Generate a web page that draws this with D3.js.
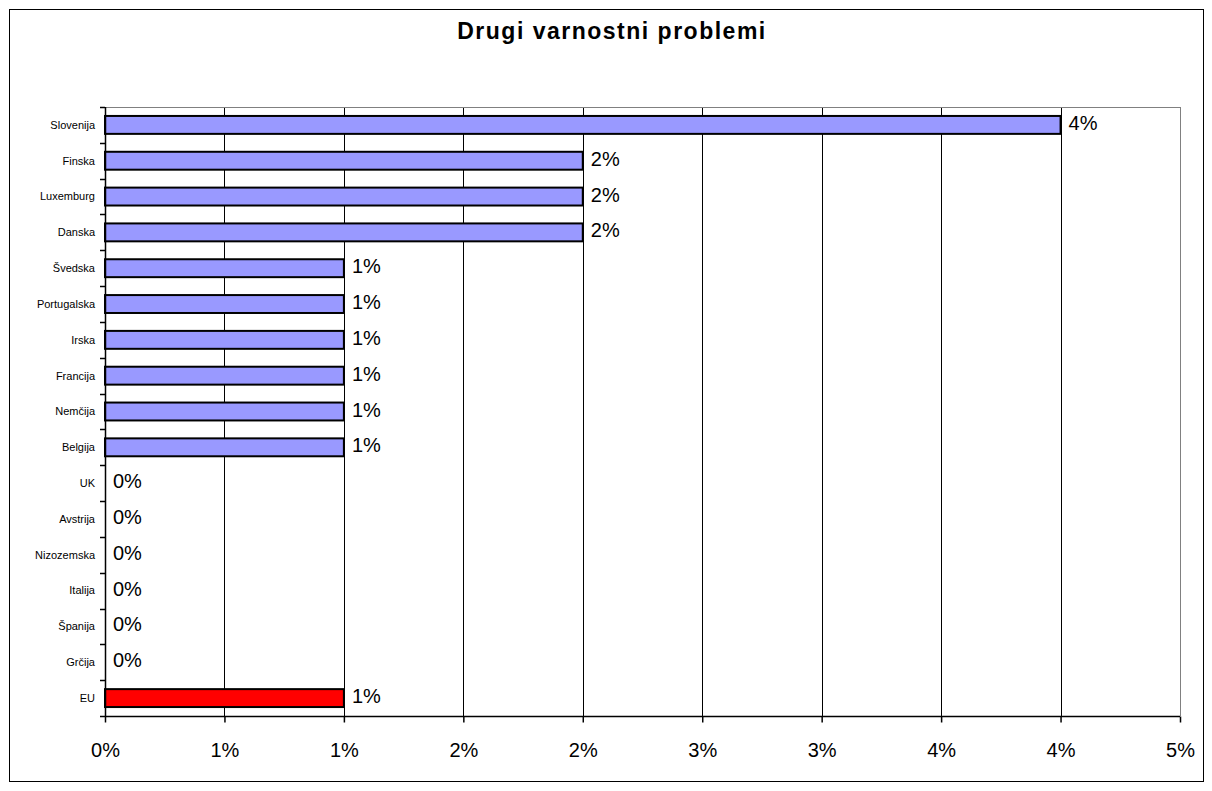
<!DOCTYPE html>
<html><head><meta charset="utf-8">
<script src="https://cdn.jsdelivr.net/npm/d3@7"></script>
<style>body{margin:0;background:#fff}svg{display:block}text{font-family:"Liberation Sans",Arial,sans-serif}</style>
</head><body>
<script>
const categories = ["Slovenija","Finska","Luxemburg","Danska","Švedska","Portugalska","Irska","Francija","Nemčija","Belgija","UK","Avstrija","Nizozemska","Italija","Španija","Grčija","EU"];
const values = [0.04,0.02,0.02,0.02,0.01,0.01,0.01,0.01,0.01,0.01,0,0,0,0,0,0,0.01];
const valueLabels = ["4%","2%","2%","2%","1%","1%","1%","1%","1%","1%","0%","0%","0%","0%","0%","0%","1%"];
const tickValues = [0,0.005,0.01,0.015,0.02,0.025,0.03,0.035,0.04,0.045];
const tickLabels = ["0%","1%","1%","2%","2%","3%","3%","4%","4%","5%"];
const title = "Drugi varnostni problemi";

const W = 1212, H = 791;
const svg = d3.select("body").append("svg").attr("width", W).attr("height", H);
svg.append("rect").attr("width", W).attr("height", H).attr("fill", "#fff");
svg.append("rect").attr("x", 9.5).attr("y", 9.5).attr("width", 1194).attr("height", 772)
  .attr("fill", "none").attr("stroke", "#000").attr("stroke-width", 1);

const L = 105, R = 1180, T = 107, B = 716;
const x = d3.scaleLinear().domain([0, 0.045]).range([L, R]);
const y = d3.scaleBand().domain(categories).range([T, B]).paddingInner(0.5).paddingOuter(0.25);

svg.append("text").attr("x", 612).attr("y", 39).attr("text-anchor", "middle")
  .attr("font-size", 23).attr("font-weight", "bold").attr("letter-spacing", 1.5).text(title);

// gridlines
svg.append("g").selectAll("line").data(tickValues.slice(1)).join("line")
  .attr("x1", d => Math.round(x(d)) + 0.5).attr("x2", d => Math.round(x(d)) + 0.5)
  .attr("y1", T).attr("y2", B).attr("stroke", "#000").attr("stroke-width", 1);
// plot border top/right gray
svg.append("line").attr("x1", L).attr("x2", R + 0.5).attr("y1", T + 0.5).attr("y2", T + 0.5).attr("stroke", "#808080");
svg.append("line").attr("x1", Math.round(R) + 0.5).attr("x2", Math.round(R) + 0.5).attr("y1", T).attr("y2", B).attr("stroke", "#808080");

// bars
svg.append("g").selectAll("rect").data(categories).join("rect")
  .attr("x", x(0)).attr("y", d => y(d))
  .attr("width", (d, i) => x(values[i]) - x(0)).attr("height", y.bandwidth())
  .attr("fill", d => d === "EU" ? "#FF0000" : "#9999FF")
  .attr("stroke", "#000").attr("stroke-width", 2)
  .style("display", (d, i) => values[i] > 0 ? null : "none");

// value labels
svg.append("g").selectAll("text").data(categories).join("text")
  .attr("x", (d, i) => x(values[i]) + 8).attr("y", d => y(d) + y.bandwidth() / 2)
  .attr("dy", "0.25em").attr("font-size", 20).text((d, i) => valueLabels[i]);

// y axis
const step = y.step();
const boundaries = d3.range(categories.length + 1).map(i => T + i * step);
const gy = svg.append("g");
gy.append("line").attr("x1", L + 0.5).attr("x2", L + 0.5).attr("y1", T).attr("y2", B).attr("stroke", "#000").attr("stroke-width", 1.5);
gy.selectAll("line.t").data(boundaries).join("line").attr("class", "t")
  .attr("x1", L - 5).attr("x2", L).attr("y1", d => Math.round(d) + 0.5).attr("y2", d => Math.round(d) + 0.5)
  .attr("stroke", "#000").attr("stroke-width", 1.5);
gy.selectAll("text").data(categories).join("text")
  .attr("x", L - 10).attr("y", d => y(d) + y.bandwidth() / 2).attr("dy", "0.35em")
  .attr("text-anchor", "end").attr("font-size", 11).text(d => d);

// x axis
const gx = svg.append("g").attr("transform", `translate(0,${B + 0.5})`)
  .call(d3.axisBottom(x).tickValues(tickValues).tickSize(6).tickPadding(20).tickFormat((d, i) => tickLabels[i]));
gx.select(".domain").attr("stroke", "#000").attr("stroke-width", 1.5).attr("d", `M${L},0H${R}`);
gx.selectAll(".tick line").attr("stroke", "#000").attr("stroke-width", 1.5);
gx.selectAll(".tick text").attr("font-size", 20).attr("fill", "#000").attr("font-family", '"Liberation Sans",Arial,sans-serif');
</script>
</body></html>
